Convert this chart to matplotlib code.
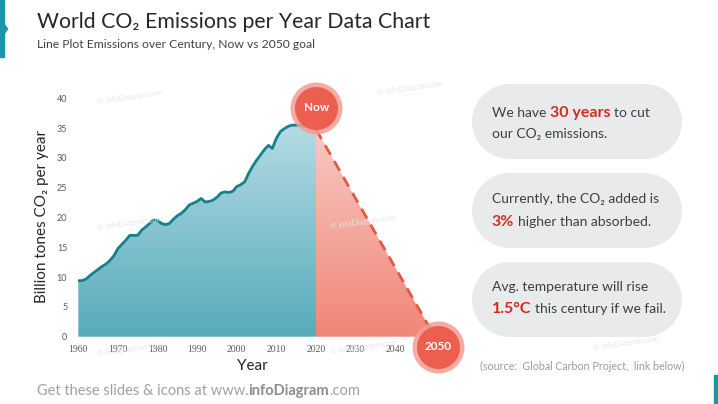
import matplotlib
matplotlib.use("Agg")
import numpy as np
import matplotlib.pyplot as plt
from matplotlib.patches import Polygon, Rectangle, Circle
from matplotlib.colors import LinearSegmentedColormap
from matplotlib.transforms import offset_copy

W, H = 718, 404

# world fossil CO2 emissions, billion tonnes per year
years = list(range(1960, 2021))
emissions = [
    9.4, 9.4, 9.7, 10.3, 10.8, 11.3, 11.8, 12.2, 12.8, 13.6,
    14.8, 15.5, 16.2, 17.0, 17.0, 17.0, 17.9, 18.4, 19.0, 19.6,
    19.5, 19.0, 18.8, 19.0, 19.7, 20.3, 20.7, 21.3, 22.1, 22.4,
    22.7, 23.2, 22.6, 22.7, 22.9, 23.4, 24.1, 24.3, 24.2, 24.4,
    25.2, 25.5, 26.0, 27.4, 28.6, 29.6, 30.5, 31.4, 32.1, 31.6,
    33.3, 34.4, 34.9, 35.3, 35.5, 35.5, 35.5, 35.3, 35.2, 35.0,
    34.8,
]
goal_year = 2050
goal_value = 0

x_ticks = [1960, 1970, 1980, 1990, 2000, 2010, 2020, 2030, 2040]
y_ticks = [0, 5, 10, 15, 20, 25, 30, 35, 40]

title = "World CO\u2082 Emissions per Year Data Chart"
subtitle = "Line Plot Emissions over Century, Now vs 2050 goal"
y_label = "Billion tones CO\u2082 per year"
x_label = "Year"
source = "(source:  Global Carbon Project,  link below)"

# (text, highlighted) pieces per line, one block per bubble
facts = [
    [[("We have", False), ("30 years", True), ("to cut", False)],
     [("our CO\u2082 emissions.", False)]],
    [[("Currently, the CO\u2082 added is", False)],
     [("3%", True), ("higher than absorbed.", False)]],
    [[("Avg. temperature will rise", False)],
     [("1.5\u00b0C", True), ("this century if we fail.", False)]],
]

FONT = ["Lato", "DejaVu Sans"]
TEAL_LINE = "#17808e"
RED = "#e05a48"
DARK = "#3f3f3f"
HILITE = "#d42b1f"
BUBBLE = "#e9eaec"

plt.rcParams["font.family"] = FONT


def fx(px):
    return px / W


def fy(py):
    return 1 - py / H


fig = plt.figure(figsize=(W / 100, H / 100), dpi=100)
fig.patch.set_facecolor("white")

# slide decorations
fig.patches.append(Rectangle((0, fy(57)), fx(4), 57 / H, transform=fig.transFigure,
                             color="#1b95a8", zorder=1))
fig.patches.append(Polygon([(fx(4), fy(24)), (fx(7.5), fy(29)), (fx(4), fy(34))],
                           closed=True, transform=fig.transFigure, color="#1b95a8"))
fig.patches.append(Rectangle((fx(714), 0), fx(4), 29 / H, transform=fig.transFigure,
                             color="#1b95a8"))

fig.text(fx(37), fy(22), title, fontsize=15.3, color="#262626", va="center", ha="left")
fig.text(fx(37), fy(44), subtitle, fontsize=8.7, color="#404040", va="center", ha="left")

# watermarks
for wx, wy in [(97, 97), (97, 223), (97, 349), (330, 222), (377, 88), (330, 347), (593, 343)]:
    fig.text(fx(wx), fy(wy), "\u00a9 infoDiagram.com", fontsize=5.5, color="#e6e6e6",
             rotation=8, va="center", ha="left")

ax = fig.add_axes([fx(78.3), fy(336.7), (434.8 - 78.3) / W, (336.7 - 98.3) / H])
ax.set_facecolor("none")

# history: gradient fill under the line
hist_poly = Polygon([(years[0], 0)] + list(zip(years, emissions)) + [(years[-1], 0)],
                    closed=True, facecolor="none", edgecolor="none")
ax.add_patch(hist_poly)
teal_cmap = LinearSegmentedColormap.from_list("teal", ["#56abbb", "#b3dbe3"])
grad = np.linspace(0, 1, 256).reshape(-1, 1)
im = ax.imshow(grad, extent=[years[0], years[-1], 0, max(emissions)], origin="lower",
               aspect="auto", cmap=teal_cmap, zorder=1)
im.set_clip_path(hist_poly)

# path to the goal: gradient triangle
goal_poly = Polygon([(years[-1], 0), (years[-1], emissions[-1]), (goal_year, goal_value)],
                    closed=True, facecolor="none", edgecolor="none")
ax.add_patch(goal_poly)
pink_cmap = LinearSegmentedColormap.from_list("pink", ["#f08677", "#f9c9c3"])
im2 = ax.imshow(grad, extent=[years[-1], goal_year, 0, emissions[-1]], origin="lower",
                aspect="auto", cmap=pink_cmap, zorder=1)
im2.set_clip_path(goal_poly)

ax.plot(years, emissions, color=TEAL_LINE, lw=2, zorder=3, solid_capstyle="round")
ax.plot([years[-1], goal_year], [emissions[-1], goal_value], color=RED, lw=2,
        dashes=(4, 2.6), zorder=3)

ax.set_xlim(1960, 2050)
ax.set_ylim(0, 40)
ax.set_xticks(x_ticks)
ax.set_yticks(y_ticks)
ax.tick_params(length=0, labelsize=6.5, labelcolor="#595959")
ax.tick_params(axis="x", pad=6)
ax.tick_params(axis="y", pad=8)
for lab in ax.get_xticklabels():
    lab.set_family("Liberation Serif")
    lab.set_fontsize(7)
for s in ax.spines.values():
    s.set_visible(False)

fig.text(fx(42), fy(216), y_label, rotation=90, fontsize=11, color="#262626",
         ha="center", va="center")
fig.text(fx(252), fy(366), x_label, fontsize=11, color="#262626", ha="center", va="center")

# Now / 2050 markers
markers = [
    ("Now", years[-1], emissions[-1], 0.5, 21.7),
    ("2050", goal_year, goal_value, 3.5, -10),
]
for label, mx, my, dx, dy in markers:
    tr = offset_copy(ax.transData, fig=fig, x=dx, y=dy, units="dots")
    ax.scatter([mx], [my], s=1400, color="#f39d93", alpha=0.85, transform=tr,
               clip_on=False, zorder=5, linewidths=0)
    ax.scatter([mx], [my], s=960, color="#ec5e4e", transform=tr,
               clip_on=False, zorder=6, linewidths=0)
    ax.text(mx, my, label, transform=tr, color="white", fontsize=8.5, fontweight="bold",
            ha="center", va="center", zorder=7, clip_on=False)

# fact bubbles (pill shapes drawn in pixel space)
box_tops = [84, 173, 262]
box_h = 75
box_x0, box_x1 = 472, 682
baselines = [(117.3, 138.3), (202.7, 225.7), (291, 313.3)]
renderer = fig.canvas.get_renderer()
space_px = 3.8
for top, lines, (b1, b2) in zip(box_tops, facts, baselines):
    r = box_h / 2
    cy = H - top - r
    fig.patches.append(Rectangle((box_x0 + r, H - top - box_h), box_x1 - box_x0 - 2 * r,
                                 box_h, transform=None, facecolor=BUBBLE, edgecolor="none"))
    for cx in (box_x0 + r, box_x1 - r):
        fig.patches.append(Circle((cx, cy), r, transform=None, facecolor=BUBBLE,
                                  edgecolor="none"))
    for line, base in zip(lines, (b1, b2)):
        x = 491.7
        for text, hot in line:
            t = fig.text(fx(x), fy(base), text, fontsize=11.5 if hot else 10,
                         fontweight="bold" if hot else "normal",
                         color=HILITE if hot else DARK, ha="left", va="baseline")
            x = t.get_window_extent(renderer).x1 + space_px

fig.text(fx(684), fy(366), source, fontsize=7.7, color="#9a9a9a", ha="right", va="center")

# footer
x = 37
for text, weight, col in [("Get these slides & icons at www.", "normal", "#a0a0a0"),
                          ("infoDiagram", "bold", "#8c8c8c"),
                          (".com", "normal", "#a0a0a0")]:
    t = fig.text(fx(x), fy(395), text, fontsize=10.5, fontweight=weight, color=col,
                 ha="left", va="baseline")
    x = t.get_window_extent(renderer).x1

fig.savefig("out.png", dpi=100)
